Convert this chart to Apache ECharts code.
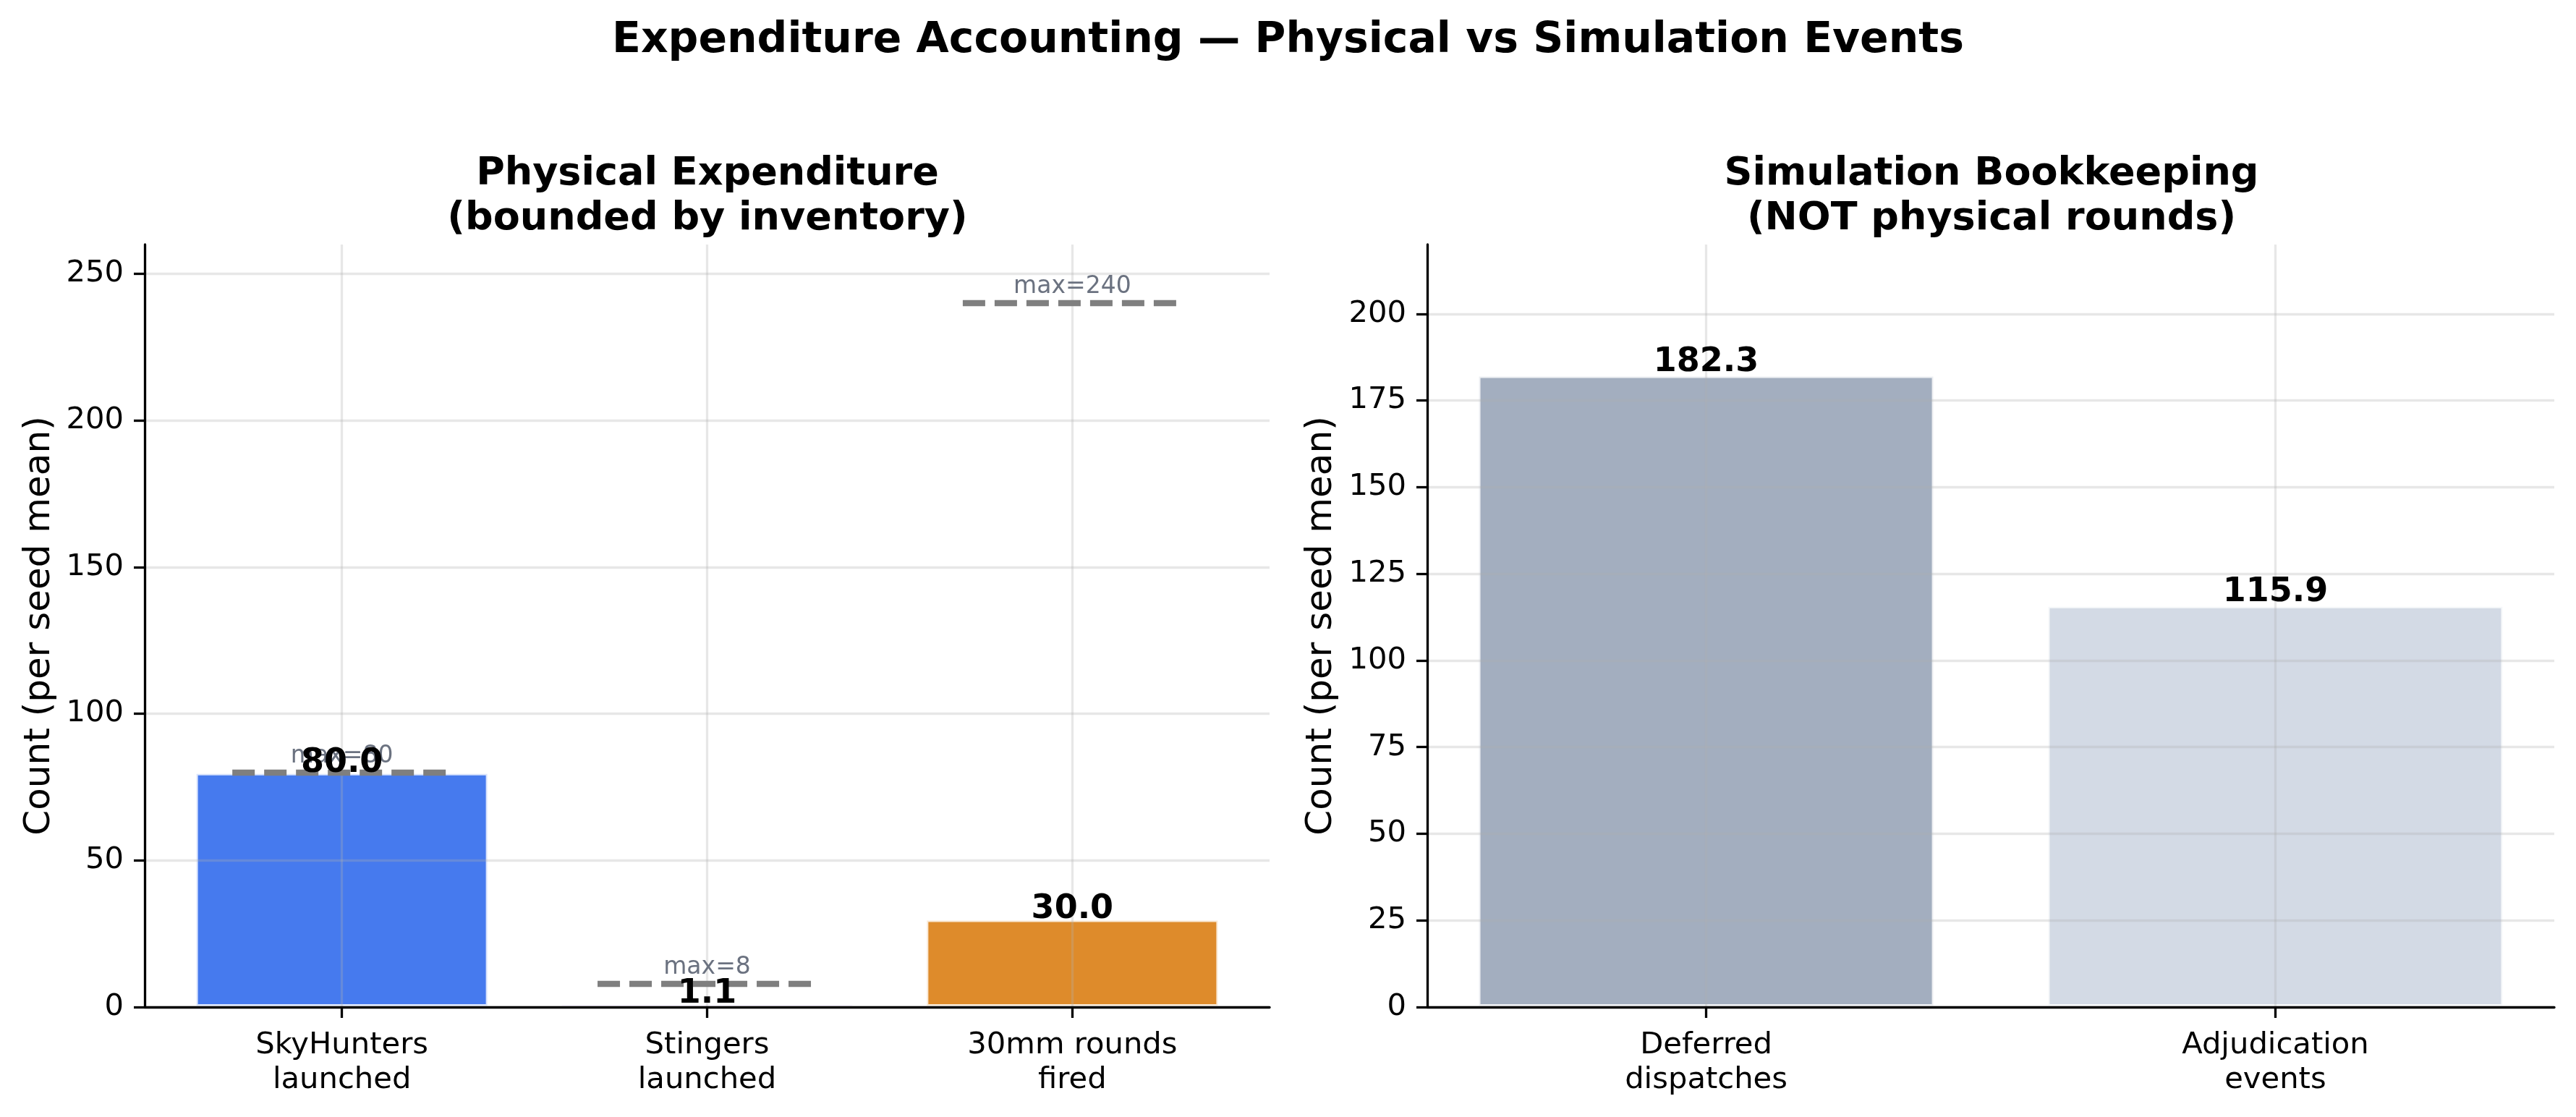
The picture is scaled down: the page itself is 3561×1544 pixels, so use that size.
<!DOCTYPE html>
<html><head><meta charset="utf-8">
<script src="https://cdn.jsdelivr.net/npm/echarts@6/dist/echarts.min.js"></script>
<style>html,body{margin:0;padding:0;background:#fff}#c{width:3561px;height:1544px}</style>
</head><body><div id="c"></div>
<script>
// ---- data ----
const suptitle = 'Expenditure Accounting — Physical vs Simulation Events';
const physTitle = 'Physical Expenditure\n(bounded by inventory)';
const simTitle = 'Simulation Bookkeeping\n(NOT physical rounds)';
const yName = 'Count (per seed mean)';
const physCategories = ['SkyHunters\nlaunched', 'Stingers\nlaunched', '30mm rounds\nfired'];
const physValues = [80.0, 1.1, 30.0];
const physMax = [80, 8, 240];
const physColors = ['#467AEE', '#8F57EF', '#DE8B2B'];
const simCategories = ['Deferred\ndispatches', 'Adjudication\nevents'];
const simValues = [182.3, 115.9];
const simColors = ['#A3AEBF', '#D3DAE5'];
const physYTicks = [0, 50, 100, 150, 200, 250];
const simYTicks = [0, 25, 50, 75, 100, 125, 150, 175, 200];
const physYMax = 260;
const simYMax = 220;

// ---- styles ----
const FONT = 'DejaVu Sans';
const LW = 3.3;
const gridColor = 'rgba(176,176,176,0.3)';

function xAxisFor(gi, cats, min, max) {
  const idx = cats.map((_, i) => i);
  return {
    type: 'value', gridIndex: gi, min: min, max: max, z: 3,
    axisLine: { show: true, onZero: false, lineStyle: { color: '#000', width: LW } },
    axisTick: { show: true, customValues: idx, length: 15, lineStyle: { color: '#000', width: LW } },
    axisLabel: { customValues: idx, formatter: v => cats[Math.round(v)], fontFamily: FONT, fontSize: 41.7, lineHeight: 48, margin: 29, color: '#000' },
    splitLine: { show: true, lineStyle: { color: gridColor, width: LW } }
  };
}
function yAxisFor(gi, ticks, max, gap) {
  return {
    type: 'value', gridIndex: gi, min: 0, max: max, z: 3,
    name: yName, nameLocation: 'middle', nameGap: gap,
    nameTextStyle: { fontFamily: FONT, fontSize: 50, color: '#000', lineHeight: 50 },
    axisLine: { show: true, onZero: false, lineStyle: { color: '#000', width: LW } },
    axisTick: { show: true, customValues: ticks, length: 15, lineStyle: { color: '#000', width: LW } },
    axisLabel: { customValues: ticks, fontFamily: FONT, fontSize: 41.7, margin: 29, color: '#000' },
    splitLine: { show: true, lineStyle: { color: gridColor, width: LW } }
  };
}
function barSeries(gi, values, colors, width) {
  return {
    type: 'bar', xAxisIndex: gi, yAxisIndex: gi, z: 2, barWidth: width,
    data: values.map((v, i) => ({ value: [i, v], itemStyle: { color: colors[i] } })),
    itemStyle: { borderColor: 'rgba(255,255,255,0.8)', borderWidth: 4 },
    animation: false
  };
}
function labelSeries(gi, values, dist) {
  return {
    type: 'scatter', xAxisIndex: gi, yAxisIndex: gi, z: 5, symbolSize: 0,
    itemStyle: { color: '#000', opacity: 1 },
    data: values.map((v, i) => [i, v]),
    label: { show: true, position: 'top', distance: dist, formatter: p => p.value[1].toFixed(1),
      fontFamily: FONT, fontWeight: 'bold', fontSize: 46, lineHeight: 44, color: '#000', opacity: 1,
      textBorderWidth: 0 },
    silent: true, animation: false
  };
}

const halfCap = 0.3;
const maxLineSeries = {
  type: 'line', xAxisIndex: 0, yAxisIndex: 0, z: 4, data: [], silent: true, animation: false,
  markLine: {
    silent: true, animation: false, symbol: ['none', 'none'],
    lineStyle: { color: '#7f7f7f', width: 8.3, type: [31, 13], cap: 'butt' },
    label: { show: true, position: 'middle', distance: 6, formatter: '{b}', fontFamily: FONT, fontSize: 33, color: '#6b7280' },
    emphasis: { disabled: true },
    data: physMax.map((m, i) => [
      { name: 'max=' + m, coord: [i - halfCap, m] },
      { coord: [i + halfCap, m] }
    ])
  }
};

const chart = echarts.init(document.getElementById('c'), null, { renderer: 'canvas' });
chart.setOption({
  animation: false,
  backgroundColor: '#fff',
  textStyle: { fontFamily: FONT },
  title: [
    { text: suptitle, left: 1780.5, top: 28, textAlign: 'center', padding: 0,
      textStyle: { fontFamily: FONT, fontWeight: 'bold', fontSize: 58.4, lineHeight: 58, color: '#000' } },
    { text: physTitle, left: 978, top: 210, textAlign: 'center', padding: 0,
      textStyle: { fontFamily: FONT, fontWeight: 'bold', fontSize: 54, lineHeight: 62, color: '#000', align: 'center' } },
    { text: simTitle, left: 2753, top: 210, textAlign: 'center', padding: 0,
      textStyle: { fontFamily: FONT, fontWeight: 'bold', fontSize: 54, lineHeight: 62, color: '#000', align: 'center' } }
  ],
  grid: [
    { left: 200, top: 338, width: 1555, height: 1054 },
    { left: 1973, top: 338, width: 1558, height: 1054 }
  ],
  xAxis: [
    xAxisFor(0, physCategories, -0.54, 2.54),
    xAxisFor(1, simCategories, -0.49, 1.49)
  ],
  yAxis: [
    yAxisFor(0, physYTicks, physYMax, 120),
    yAxisFor(1, simYTicks, simYMax, 121)
  ],
  series: [
    barSeries(0, physValues, physColors, 406),
    barSeries(1, simValues, simColors, 632),
    maxLineSeries,
    labelSeries(0, physValues, -9),
    labelSeries(1, simValues, -4)
  ]
});
</script></body></html>
